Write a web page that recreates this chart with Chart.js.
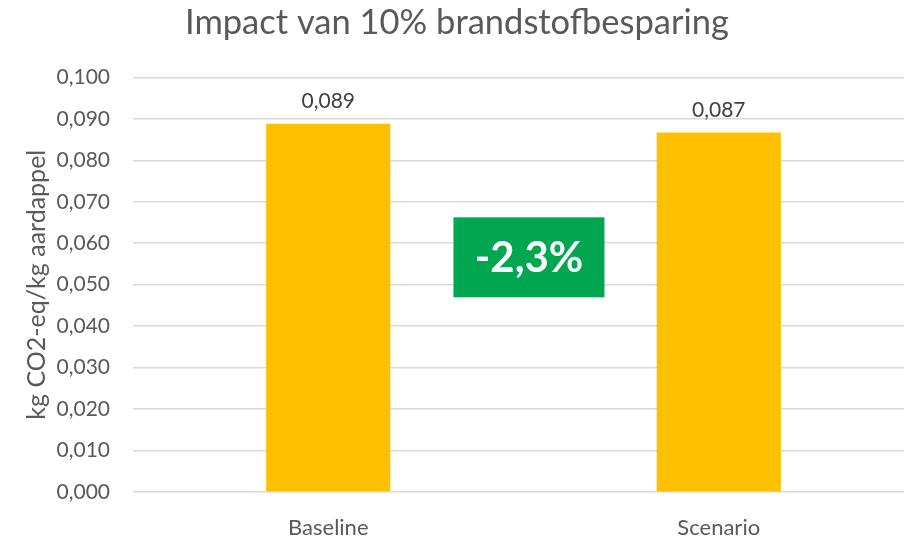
<!DOCTYPE html>
<html lang="nl">
<head>
    <meta charset="UTF-8">
    <title>Impact van 10% brandstofbesparing</title>
    <script src="https://cdn.jsdelivr.net/npm/chart.js"></script>
    <style>
        body { margin: 0; overflow: hidden; background: #fff; }
        canvas { display: block; }
    </style>
</head>
<body>
    <canvas id="impactChart" width="914" height="536"></canvas>
    <script>
        const categories = ["Baseline", "Scenario"];
        const impactValues = [0.0888, 0.0867];
        const valueLabels = ["0,089", "0,087"];
        const yTicks = [0, 0.01, 0.02, 0.03, 0.04, 0.05, 0.06, 0.07, 0.08, 0.09, 0.1];
        const changeLabel = "-2,3%";

        const FONT = "Lato, 'Liberation Sans', sans-serif";

        // groen blok met de procentuele besparing, tussen de twee staven
        const changeBox = {
            id: 'changeBox',
            afterDatasetsDraw(chart) {
                const { ctx, scales: { x, y } } = chart;
                const cx = x.getPixelForValue(0) + 0.514 * (x.getPixelForValue(1) - x.getPixelForValue(0));
                const cy = y.getPixelForValue(0.0566);
                const w = 151, h = 80;
                ctx.save();
                ctx.fillStyle = '#00a650';
                ctx.fillRect(cx - w / 2, cy - h / 2, w, h);
                ctx.fillStyle = '#ffffff';
                ctx.font = "bold 42px " + FONT;
                ctx.textAlign = 'center';
                ctx.textBaseline = 'middle';
                ctx.fillText(changeLabel, cx, cy + 1);
                ctx.restore();
            }
        };

        // waardelabels boven de staven
        const barLabels = {
            id: 'barLabels',
            afterDatasetsDraw(chart) {
                const { ctx } = chart;
                const meta = chart.getDatasetMeta(0);
                ctx.save();
                ctx.fillStyle = '#404040';
                ctx.font = "21px " + FONT;
                ctx.textAlign = 'center';
                ctx.textBaseline = 'alphabetic';
                meta.data.forEach((bar, i) => {
                    ctx.fillText(valueLabels[i], bar.x, bar.y - 16);
                });
                ctx.restore();
            }
        };

        new Chart(document.getElementById('impactChart'), {
            type: 'bar',
            data: {
                labels: categories,
                datasets: [{
                    data: impactValues,
                    backgroundColor: '#ffc000',
                    categoryPercentage: 1,
                    barPercentage: 0.318
                }]
            },
            options: {
                responsive: false,
                animation: false,
                layout: { padding: 0 },
                plugins: {
                    legend: { display: false },
                    tooltip: { enabled: false },
                    title: {
                        display: true,
                        text: 'Impact van 10% brandstofbesparing',
                        color: '#595959',
                        font: { family: FONT, size: 34.5, weight: 'normal' },
                        padding: { top: 2, bottom: 34 }
                    }
                },
                scales: {
                    x: {
                        grid: { display: false },
                        border: { display: false },
                        ticks: { color: '#595959', font: { family: FONT, size: 22 }, padding: 15 },
                        afterFit(scale) { scale.height = 44; }
                    },
                    y: {
                        min: 0,
                        max: 0.1,
                        afterBuildTicks(scale) { scale.ticks = yTicks.map(v => ({ value: v })); },
                        grid: { color: '#d9d9d9', lineWidth: 1.5, drawTicks: false },
                        border: { display: false },
                        ticks: {
                            color: '#595959',
                            font: { family: FONT, size: 21 },
                            padding: 23,
                            callback: v => v.toFixed(3).replace('.', ',')
                        },
                        title: {
                            display: true,
                            text: 'kg CO2-eq/kg aardappel',
                            color: '#595959',
                            font: { family: FONT, size: 25 },
                            padding: { top: 22 }
                        },
                        afterFit(scale) { scale.width = 133; }
                    }
                }
            },
            plugins: [changeBox, barLabels]
        });
    </script>
</body>
</html>
